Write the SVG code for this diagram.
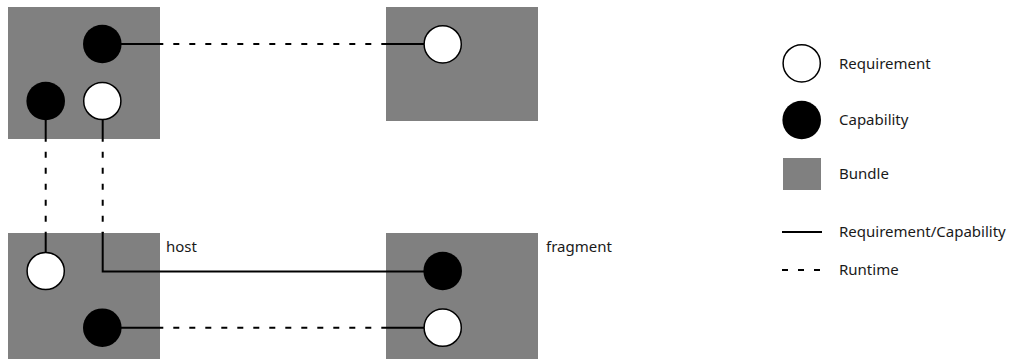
<svg xmlns="http://www.w3.org/2000/svg" width="1022" height="362" viewBox="0 0 1022 362">
<style>
.bundle{fill:#808080}
.req{fill:#fff;stroke:#000;stroke-width:1.5}
.cap{fill:#000}
.solid{stroke:#000;stroke-width:2;fill:none}
.dash{stroke:#000;stroke-width:2;fill:none;stroke-dasharray:6 10}
text{font-family:"Noto Sans","Open Sans",sans-serif;font-size:15px;fill:#1a1a1a}
</style>
<rect width="1022" height="362" fill="#fff"/>
<g id="bundle-top-left">
<rect class="bundle" x="8" y="7" width="152" height="132"/>
</g>
<g id="bundle-top-right">
<rect class="bundle" x="386" y="7" width="152" height="114"/>
</g>
<g id="bundle-host">
<rect class="bundle" x="8" y="233" width="152" height="126"/>
<text x="166" y="252">host</text>
</g>
<g id="bundle-fragment">
<rect class="bundle" x="386" y="233" width="152" height="126"/>
<text x="546" y="252">fragment</text>
</g>
<g id="connectors">
<line class="solid" x1="121" y1="44" x2="160" y2="44"/>
<line class="dash" x1="160" y1="44" x2="386" y2="44" stroke-dashoffset="2.7"/>
<line class="solid" x1="386" y1="44" x2="424" y2="44"/>
<line class="solid" x1="45.7" y1="120" x2="45.7" y2="139"/>
<line class="dash" x1="45.7" y1="139" x2="45.7" y2="233" stroke-dashoffset="3.2"/>
<line class="solid" x1="45.7" y1="233" x2="45.7" y2="252"/>
<line class="solid" x1="102.7" y1="120" x2="102.7" y2="139"/>
<line class="dash" x1="102.7" y1="139" x2="102.7" y2="233" stroke-dashoffset="3.2"/>
<polyline class="solid" points="102.7,232 102.7,271.5 424,271.5"/>
<line class="solid" x1="121" y1="327.7" x2="160" y2="327.7"/>
<line class="dash" x1="160" y1="327.7" x2="386" y2="327.7" stroke-dashoffset="2.7"/>
<line class="solid" x1="386" y1="327.7" x2="424" y2="327.7"/>
</g>
<g id="ports">
<circle class="cap" cx="102.3" cy="44" r="19.3"/>
<circle class="cap" cx="45.7" cy="101" r="19.3"/>
<circle class="req" cx="102.3" cy="101" r="18.6"/>
<circle class="req" cx="442.7" cy="44.3" r="18.6"/>
<circle class="req" cx="45.7" cy="271" r="18.6"/>
<circle class="cap" cx="102.3" cy="327.7" r="19.3"/>
<circle class="cap" cx="442.7" cy="271" r="19.3"/>
<circle class="req" cx="442.7" cy="327.7" r="18.6"/>
</g>
<g id="legend">
<circle class="req" cx="801.7" cy="63.3" r="18.6"/>
<text x="839" y="69">Requirement</text>
<circle class="cap" cx="801.7" cy="120" r="19.3"/>
<text x="839" y="125">Capability</text>
<rect class="bundle" x="783" y="158" width="38" height="32"/>
<text x="839" y="179">Bundle</text>
<line class="solid" x1="782" y1="232" x2="822" y2="232"/>
<text x="839" y="237">Requirement/Capability</text>
<line class="dash" x1="782" y1="270" x2="822" y2="270" stroke-dasharray="5 6.67"/>
<text x="839" y="275">Runtime</text>
</g>
</svg>
